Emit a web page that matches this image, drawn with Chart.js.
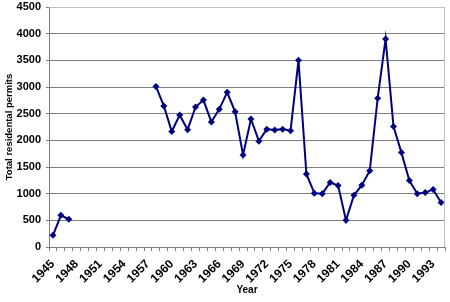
<!DOCTYPE html>
<html>
<head>
<meta charset="utf-8">
<script src="https://cdn.jsdelivr.net/npm/chart.js@4/dist/chart.umd.min.js"></script>
<style>
    html, body { margin: 0; padding: 0; background: #fff; }
    #wrap { width: 450px; height: 302px; position: relative; }
</style>
</head>
<body>
<div id="wrap"><canvas id="c"></canvas></div>
<script>
    // years 1945..1994, gap 1948-1957
    var years = [];
    for (var y = 1945; y <= 1994; y++) years.push(String(y));

    var earlyPermits = [220, 595, 520];
    var missing = [null, null, null, null, null, null, null, null, null, null];
    var laterPermits = [
        3010, 2645, 2165, 2475, 2200, 2625, 2755, 2345, 2585, 2900,
        2535, 1725, 2400, 1985, 2210, 2195, 2210, 2180, 3500, 1370,
        1010, 1000, 1210, 1155, 500, 970, 1160, 1430, 2790, 3900,
        2260, 1770, 1245, 1000, 1020, 1080, 835
    ];
    var permits = earlyPermits.concat(missing, laterPermits);

    var yTicks = [0, 500, 1000, 1500, 2000, 2500, 3000, 3500, 4000, 4500];

    var navy = '#000080';
    var family = 'Liberation Sans, Arial, sans-serif';
    var font = { family: family, size: 11, weight: 'bold' };
    var xFont = { family: family, size: 12, weight: 'bold' };

    var frame = {
        id: 'frame',
        afterDraw: function (chart) {
            var a = chart.chartArea;
            var ctx = chart.ctx;
            ctx.save();
            ctx.strokeStyle = '#c0c0c0';
            ctx.lineWidth = 1;
            ctx.beginPath();
            ctx.moveTo(a.left, a.top + 0.5);
            ctx.lineTo(a.right - 0.5, a.top + 0.5);
            ctx.lineTo(a.right - 0.5, a.bottom);
            ctx.stroke();
            ctx.restore();
        }
    };

    new Chart(document.getElementById('c'), {
        type: 'line',
        data: {
            labels: years,
            datasets: [{
                data: permits,
                borderColor: navy,
                backgroundColor: navy,
                borderWidth: 2,
                pointStyle: 'rectRot',
                pointRadius: 3.5,
                pointBorderWidth: 0,
                spanGaps: false,
                tension: 0
            }]
        },
        options: {
            responsive: true,
            maintainAspectRatio: false,
            animation: false,
            layout: { padding: { top: 7, right: 5, left: 0, bottom: 0 } },
            plugins: {
                legend: { display: false },
                tooltip: { enabled: false }
            },
            scales: {
                x: {
                    type: 'category',
                    offset: true,
                    afterFit: function (axis) {
                        axis.height = 55;
                        axis.paddingLeft = 0;
                        axis.paddingRight = 0;
                    },
                    grid: {
                        offset: true,
                        drawOnChartArea: false,
                        drawTicks: true,
                        tickLength: 4,
                        color: '#808080'
                    },
                    border: { color: '#808080' },
                    ticks: {
                        autoSkip: false,
                        maxRotation: 45,
                        minRotation: 45,
                        color: '#000',
                        font: xFont,
                        padding: 6,
                        callback: function (v, i) {
                            return i % 3 === 0 ? years[i] : '';
                        }
                    },
                    title: {
                        display: true,
                        text: 'Year',
                        color: '#000',
                        font: { family: family, size: 10, weight: 'bold' },
                        padding: { top: 0, bottom: 6 }
                    }
                },
                y: {
                    min: 0,
                    max: 4500,
                    afterFit: function (axis) {
                        axis.width = 49;
                        axis.paddingTop = 0;
                        axis.paddingBottom = 0;
                    },
                    afterBuildTicks: function (axis) {
                        axis.ticks = yTicks.map(function (v) { return { value: v }; });
                    },
                    grid: {
                        color: '#808080',
                        tickLength: 3
                    },
                    border: { color: '#808080' },
                    ticks: {
                        color: '#000',
                        font: font,
                        padding: 5,
                        callback: function (v) { return String(v); }
                    },
                    title: {
                        display: true,
                        text: 'Total residental permits',
                        color: '#000',
                        font: { family: family, size: 9.5, weight: 'bold' },
                        padding: { top: 4, bottom: 0 }
                    }
                }
            }
        },
        plugins: [frame]
    });
</script>
</body>
</html>
